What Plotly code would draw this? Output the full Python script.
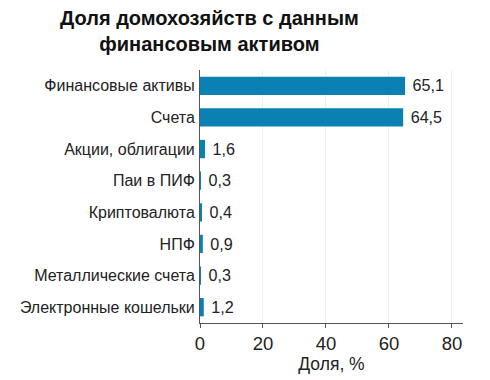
import plotly.graph_objects as go

categories = ["Финансовые активы", "Счета", "Акции, облигации", "Паи в ПИФ",
              "Криптовалюта", "НПФ", "Металлические счета", "Электронные кошельки"]
values = [65.1, 64.5, 1.6, 0.3, 0.4, 0.9, 0.3, 1.2]
labels = ["\u00a0" + f"{v:.1f}".replace(".", ",") for v in values]
tick_vals = [0, 20, 40, 60, 80]

fig = go.Figure(go.Bar(
    x=values, y=categories, orientation="h",
    marker=dict(color="#0a80b3", line=dict(width=0)),
    width=0.58,
    text=labels, textposition="outside",
    textfont=dict(size=18.5, color="#222"),
    cliponaxis=False,
))

fig.update_layout(
    width=490, height=380,
    margin=dict(l=192, r=35, t=62, b=65, autoexpand=False),
    paper_bgcolor="white", plot_bgcolor="white",
    font=dict(family="Liberation Sans, Arial, sans-serif", color="#222"),
    showlegend=False,
    annotations=[dict(text="<b>Доля домохозяйств с данным<br>финансовым активом</b>",
                      xref="paper", yref="paper", x=0.038, y=1.154,
                      xanchor="center", yanchor="middle", showarrow=False,
                      font=dict(size=20, color="#111"))],
)
fig.update_xaxes(range=[0, 83.5], tickvals=tick_vals, showgrid=True,
                 gridcolor="#e6f2f2", gridwidth=1, zeroline=False,
                 showline=True, linecolor="#555", linewidth=1,
                 ticks="outside", ticklen=4, tickcolor="#555", automargin=False,
                 tickfont=dict(size=18.5, color="#222"),
                 title=dict(text="Доля, %", font=dict(size=17.5, color="#222"), standoff=0))
fig.update_yaxes(autorange="reversed", showline=True, linecolor="#555", linewidth=1,
                 ticks="", automargin=False, ticklabelstandoff=1,
                 tickfont=dict(size=16, color="#222"))

fig.write_html("out.html")
